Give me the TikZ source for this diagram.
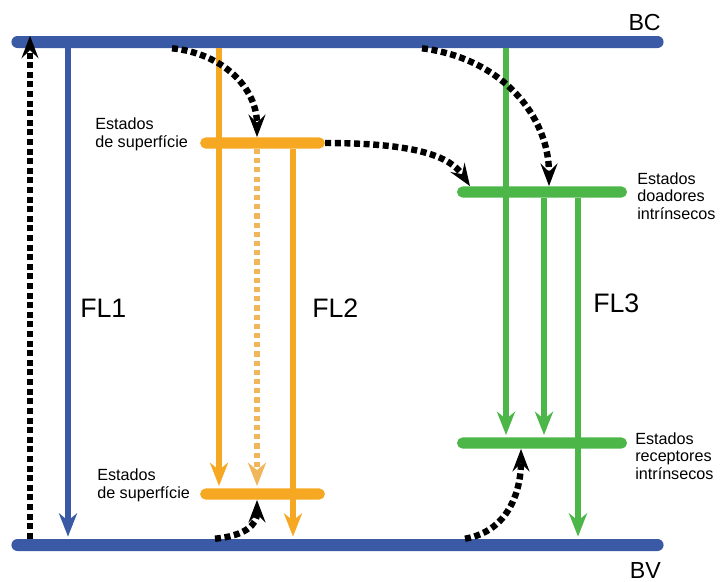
\documentclass[tikz,border=0pt]{standalone}
\usepackage{fontspec}
\setmainfont{Liberation Sans}
\usetikzlibrary{arrows.meta}
\definecolor{bandblue}{RGB}{59,90,166}
\definecolor{surforange}{RGB}{247,168,35}
\definecolor{dotorange}{RGB}{240,182,92}
\definecolor{intrgreen}{RGB}{76,183,72}

\begin{document}
\begin{tikzpicture}[x=0.025cm, y=-0.025cm,
  band/.style={fill=bandblue, rounded corners=0.15cm, minimum width=16.3cm,
               minimum height=0.3cm, inner sep=0pt},
  level/.style={rounded corners=0.14cm, minimum height=0.28cm, inner sep=0pt},
  trans/.style={line width=0.15cm, shorten >=1.5pt,
                -{Stealth[length=0.58cm, width=0.45cm, inset=0.18cm]}},
  hop/.style={black, line width=0.16cm, dash pattern=on 0.15cm off 0.09cm,
              -{Stealth[length=0.56cm, width=0.42cm, inset=0.2cm]}},
  state/.style={font=\fontsize{11.5}{12.6}\selectfont, align=left,
                inner sep=0pt, anchor=west},
  big/.style={font=\fontsize{19}{21}\selectfont, inner sep=0pt},
  edge/.style={font=\fontsize{16.5}{18}\selectfont, inner sep=0pt, anchor=base east}
]
\useasboundingbox (0,0) rectangle (720,581);

% bands
\node[band] (bc) at (337.5,42) {};
\node[band] (bv) at (337.5,545) {};
\node[edge] (bclab) at (661,30) {BC};
\node[edge] (bvlab) at (661,578) {BV};

% levels
\node[level, fill=surforange, minimum width=3.12cm] (supA) at (262.5,143) {};
\node[level, fill=surforange, minimum width=3.12cm] (supB) at (262.5,494) {};
\node[level, fill=intrgreen, minimum width=4.25cm] (don) at (542,192) {};
\node[level, fill=intrgreen, minimum width=4.25cm] (rec) at (542,443) {};

% x positions of the transitions
\foreach \n/\x in {xup/30, xfl1/68, xo1/219, xo2/257, xo3/293,
                   xg1/506, xg2/544, xg3/578, xh1/172, xh2/470,
                   xh3/422, xh3e/549, xh4/215, xh5/465, xh5e/521}
  \coordinate (\n) at (\x,0);

% transitions
\draw[trans, bandblue] (bc.south -| xfl1) -- (bv.north -| xfl1);
\draw[trans, surforange] (bc.south -| xo1) -- (supB.north -| xo1);
\draw[trans, dotorange, line width=0.13cm, dash pattern=on 0.13cm off 0.1cm]
  (supA.south -| xo2) -- (supB.north -| xo2);
\draw[trans, surforange] (supA.south -| xo3) -- (bv.north -| xo3);
\draw[trans, intrgreen] (bc.south -| xg1) -- (rec.north -| xg1);
\draw[trans, intrgreen] (don.south -| xg2) -- (rec.north -| xg2);
\draw[trans, intrgreen] (don.south -| xg3) -- (bv.north -| xg3);

% hops
\draw[hop] (bv.north -| xup) -- (bc.north -| xup);
\draw[hop] (bc.south -| xh1) .. controls +(50,5) and +(0,-50) .. (supA.north -| xo2);
\draw[hop] (supA.east) .. controls +(90,0) and +(-20,-30) .. (don.north -| xh2);
\draw[hop] (bc.south -| xh3) .. controls +(80,10) and +(0,-70) .. (don.north -| xh3e);
\draw[hop] (bv.north -| xh4) .. controls +(30,-3) and +(0,25) .. (supB.south -| xo2);
\draw[hop] (bv.north -| xh5) .. controls +(45,-8) and +(0,40) .. (rec.south -| xh5e);

% labels
\node[big, anchor=west] (fl1) at (80,308) {FL1};
\node[big, anchor=west] (fl2) at (312,308) {FL2};
\node[big, anchor=west] (fl3) at (593,303) {FL3};
\node[state] (supAlab) at (95,134) {Estados\\de superfície};
\node[state] (supBlab) at (97,485) {Estados\\de superfície};
\node[state] (donlab) at (637,196) {Estados\\doadores\\intrínsecos};
\node[state] (reclab) at (635,456) {Estados\\receptores\\intrínsecos};
\end{tikzpicture}
\end{document}
